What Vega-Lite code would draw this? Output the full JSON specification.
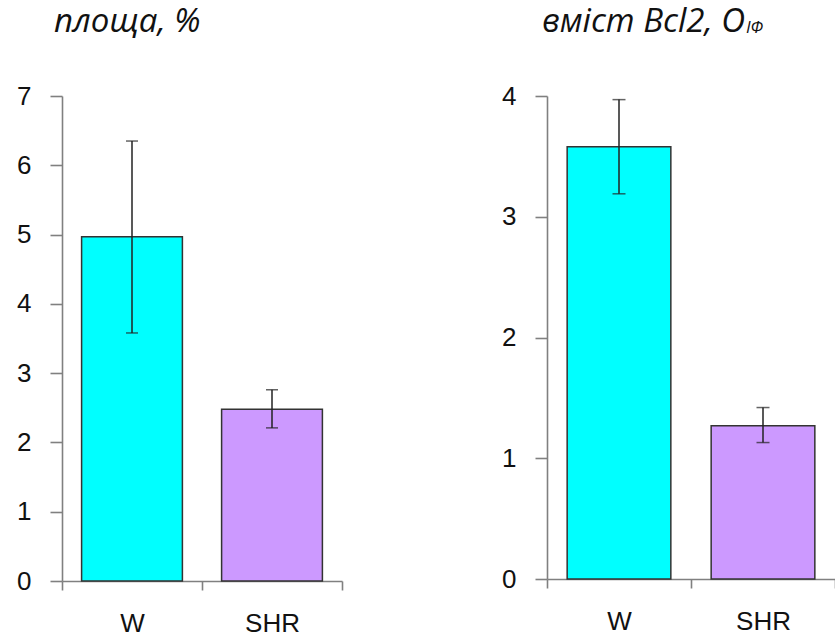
{
  "$schema": "https://vega.github.io/schema/vega-lite/v6.json",
  "background": "white",
  "padding": {"left": 16, "top": 6, "right": 0, "bottom": 0},
  "datasets": {
    "area": [
      {"group": "W", "mean": 4.97, "lo": 3.58, "hi": 6.35},
      {"group": "SHR", "mean": 2.48, "lo": 2.21, "hi": 2.76}
    ],
    "bcl2": [
      {"group": "W", "mean": 3.58, "lo": 3.19, "hi": 3.97},
      {"group": "SHR", "mean": 1.27, "lo": 1.13, "hi": 1.42}
    ]
  },
  "config": {
    "view": {"stroke": null},
    "font": "Liberation Sans",
    "axis": {
      "domainColor": "#808080",
      "domainWidth": 1.6,
      "tickColor": "#808080",
      "tickWidth": 1.6,
      "labelFont": "Liberation Sans",
      "labelFontSize": 26,
      "labelColor": "#111111",
      "grid": false,
      "title": null
    },
    "axisX": {"tickBand": "extent", "tickSize": 9, "labelPadding": 20, "labelAngle": 0},
    "axisY": {"tickSize": 12, "labelPadding": 19, "format": "d"},
    "title": {
      "font": "Open Sans",
      "fontStyle": "italic",
      "fontWeight": "normal",
      "fontSize": 33,
      "anchor": "start",
      "frame": "group",
      "color": "#111111",
      "offset": 44,
      "subtitleFont": "Open Sans",
      "subtitleFontStyle": "italic",
      "subtitleFontWeight": "normal",
      "subtitleFontSize": 17,
      "subtitleColor": "#111111"
    },
    "scale": {"bandPaddingInner": 0, "bandPaddingOuter": 0}
  },
  "spacing": 158,
  "hconcat": [
    {
      "data": {"name": "area"},
      "width": 280,
      "height": 485,
      "title": {"text": "площа, %", "dx": -8},
      "encoding": {
        "x": {"field": "group", "type": "nominal", "sort": ["W", "SHR"]}
      },
      "layer": [
        {
          "mark": {"type": "bar", "width": {"band": 0.72}, "stroke": "#333333", "strokeWidth": 1.5},
          "encoding": {
            "y": {
              "field": "mean",
              "type": "quantitative",
              "title": null,
              "scale": {"domain": [0, 7], "nice": false},
              "axis": {"values": [0, 1, 2, 3, 4, 5, 6, 7]}
            },
            "fill": {
              "field": "group",
              "type": "nominal",
              "scale": {"domain": ["W", "SHR"], "range": ["#00FFFF", "#CC99FF"]},
              "legend": null
            }
          }
        },
        {
          "mark": {
            "type": "errorbar",
            "ticks": {"size": 12, "thickness": 1.5, "color": "#222222"},
            "rule": {"strokeWidth": 1.5, "color": "#222222"}
          },
          "encoding": {
            "y": {"field": "lo", "type": "quantitative", "title": null},
            "y2": {"field": "hi"}
          }
        }
      ]
    },
    {
      "data": {"name": "bcl2"},
      "width": 288,
      "height": 483,
      "title": {
        "text": "вміст Bcl2, O",
        "subtitle": "\u200d\u2003\u2003\u2003\u2003\u2003\u2003\u2003\u2003\u2003\u2003\u2003\u2003ІФ",
        "subtitlePadding": -19,
        "dx": -5
      },
      "encoding": {
        "x": {"field": "group", "type": "nominal", "sort": ["W", "SHR"]}
      },
      "layer": [
        {
          "mark": {"type": "bar", "width": {"band": 0.72}, "stroke": "#333333", "strokeWidth": 1.5},
          "encoding": {
            "y": {
              "field": "mean",
              "type": "quantitative",
              "title": null,
              "scale": {"domain": [0, 4], "nice": false},
              "axis": {"values": [0, 1, 2, 3, 4]}
            },
            "fill": {
              "field": "group",
              "type": "nominal",
              "scale": {"domain": ["W", "SHR"], "range": ["#00FFFF", "#CC99FF"]},
              "legend": null
            }
          }
        },
        {
          "mark": {
            "type": "errorbar",
            "ticks": {"size": 13, "thickness": 1.5, "color": "#222222"},
            "rule": {"strokeWidth": 1.5, "color": "#222222"}
          },
          "encoding": {
            "y": {"field": "lo", "type": "quantitative", "title": null},
            "y2": {"field": "hi"}
          }
        }
      ]
    }
  ]
}
